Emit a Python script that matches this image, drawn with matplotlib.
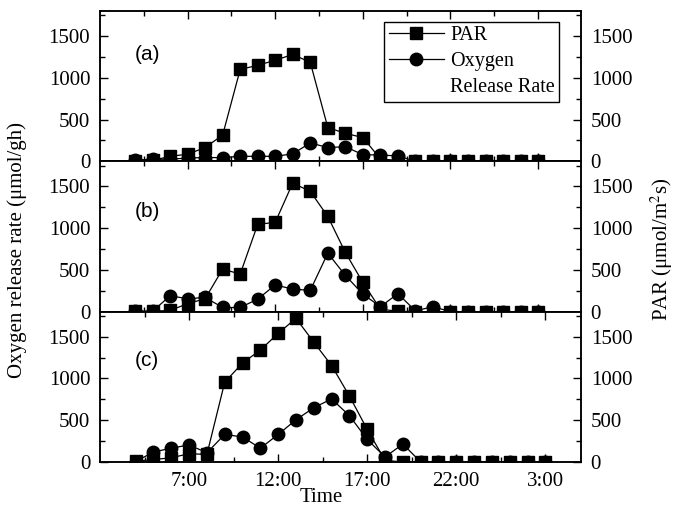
import matplotlib
matplotlib.use("Agg")
import matplotlib.pyplot as plt
from matplotlib.lines import Line2D
from matplotlib.ticker import MultipleLocator, FixedLocator

plt.rcParams['font.family'] = ['Liberation Serif', 'DejaVu Serif']
plt.rcParams['mathtext.fontset'] = 'stix'

hours = list(range(4, 28))
xtick_pos = [7, 12, 17, 22, 27]
xtick_labels = ["7:00", "12:00", "17:00", "22:00", "3:00"]
xminor_pos = [4.5, 9.5, 14.5, 19.5, 24.5]

par_a = [5, 10, 60, 85, 165, 315, 1100, 1150, 1210, 1280, 1185, 405, 335, 285, 30, 10,
         0, 0, 0, 0, 0, 0, 0, 0]
oxy_a = [15, 25, 25, 40, 45, 45, 60, 60, 60, 90, 220, 165, 175, 80, 75, 65,
         0, 0, 0, 0, 0, 0, 0, 0]

par_b = [5, 5, 15, 95, 155, 510, 450, 1045, 1070, 1540, 1440, 1140, 710, 350, 30, 5,
         0, 0, 0, 0, 0, 0, 0, 0]
oxy_b = [5, 5, 190, 155, 170, 50, 50, 150, 320, 270, 255, 700, 435, 210, 60, 215,
         10, 60, 0, 0, 0, 0, 0, 0]

par_c = [10, 30, 50, 100, 90, 955, 1185, 1340, 1540, 1720, 1435, 1155, 790, 390, 20, 0,
         0, 0, 0, 0, 0, 0, 0, 0]
oxy_c = [5, 120, 165, 205, 110, 330, 300, 165, 330, 505, 650, 755, 555, 270, 60, 215,
         0, 0, 0, 0, 0, 0, 0, 0]

panels = [("(a)", par_a, oxy_a, (2, 29.45), 0.71),
          ("(b)", par_b, oxy_b, (2, 29.45), 0.665),
          ("(c)", par_c, oxy_c, (2, 29.0), 0.675)]

fig = plt.figure(figsize=(6.74, 5.11), dpi=100)
left = 100 / 674
width = 481 / 674
top = 1 - 11 / 511
h = (451 / 511) / 3

FS = 15
axes = []
for i, (lab, par, oxy, xl, ly) in enumerate(panels):
    ax = fig.add_axes([left, top - (i + 1) * h, width, h])
    ax2 = ax.twinx()
    ax.plot(hours, oxy, color='black', lw=0.9, marker='o', ms=9,
            mec='black', mfc='black', zorder=3)
    ax2.plot(hours, par, color='black', lw=0.9, marker='s', ms=8,
             mec='black', mfc='black', zorder=3)
    for a in (ax, ax2):
        a.set_xlim(*xl)
        a.set_ylim(0, 1800)
        a.yaxis.set_major_locator(FixedLocator([0, 500, 1000, 1500]))
        a.yaxis.set_minor_locator(MultipleLocator(250))
        a.xaxis.set_major_locator(FixedLocator(xtick_pos))
        a.xaxis.set_minor_locator(FixedLocator(xminor_pos))
        for s in a.spines.values():
            s.set_linewidth(1.1)
    ax.tick_params(axis='both', which='major', direction='in', length=6, width=1,
                   labelsize=FS, pad=7, top=True, bottom=True)
    ax.tick_params(axis='both', which='minor', direction='in', length=3.5, width=1,
                   top=True, bottom=True)
    ax2.tick_params(axis='y', which='major', direction='in', length=6, width=1,
                    labelsize=FS, pad=7)
    ax2.tick_params(axis='y', which='minor', direction='in', length=3.5, width=1)
    ax2.tick_params(axis='x', which='both', top=False, bottom=False)
    if i < 2:
        ax.tick_params(axis='x', labelbottom=False)
    else:
        ax.set_xticklabels(xtick_labels)
    ax.text(0.072, ly, lab, transform=ax.transAxes, fontsize=FS,
            family=['Liberation Sans', 'DejaVu Sans'], va='center', ha='left')
    axes.append((ax, ax2))

ax_a = axes[0][1]
handles = [Line2D([], [], color='black', lw=0.9, marker='s', ms=8),
           Line2D([], [], color='black', lw=0.9, marker='o', ms=9),
           Line2D([], [], linestyle='none', marker='none')]
labels = ["PAR", "Oxygen", "Release Rate"]
leg = ax_a.legend(handles, labels, loc='upper right', bbox_to_anchor=(0.955, 0.93),
                  fontsize=14.5, frameon=True, fancybox=False, framealpha=1,
                  edgecolor='black', handlelength=2.75, handletextpad=0.3,
                  labelspacing=0.35, borderpad=0.22, borderaxespad=0)
leg.get_frame().set_linewidth(1.0)

fig.text(0.025, 0.511, "Oxygen release rate (μmol/gh)", rotation=90,
         fontsize=FS, ha='center', va='center')
fig.text(0.982, 0.511, "PAR (μmol/m$^2$s)", rotation=90,
         fontsize=FS, ha='center', va='center')
fig.text(0.476, 0.027, "Time", fontsize=FS, ha='center', va='center')

fig.savefig("out.png", dpi=100)
